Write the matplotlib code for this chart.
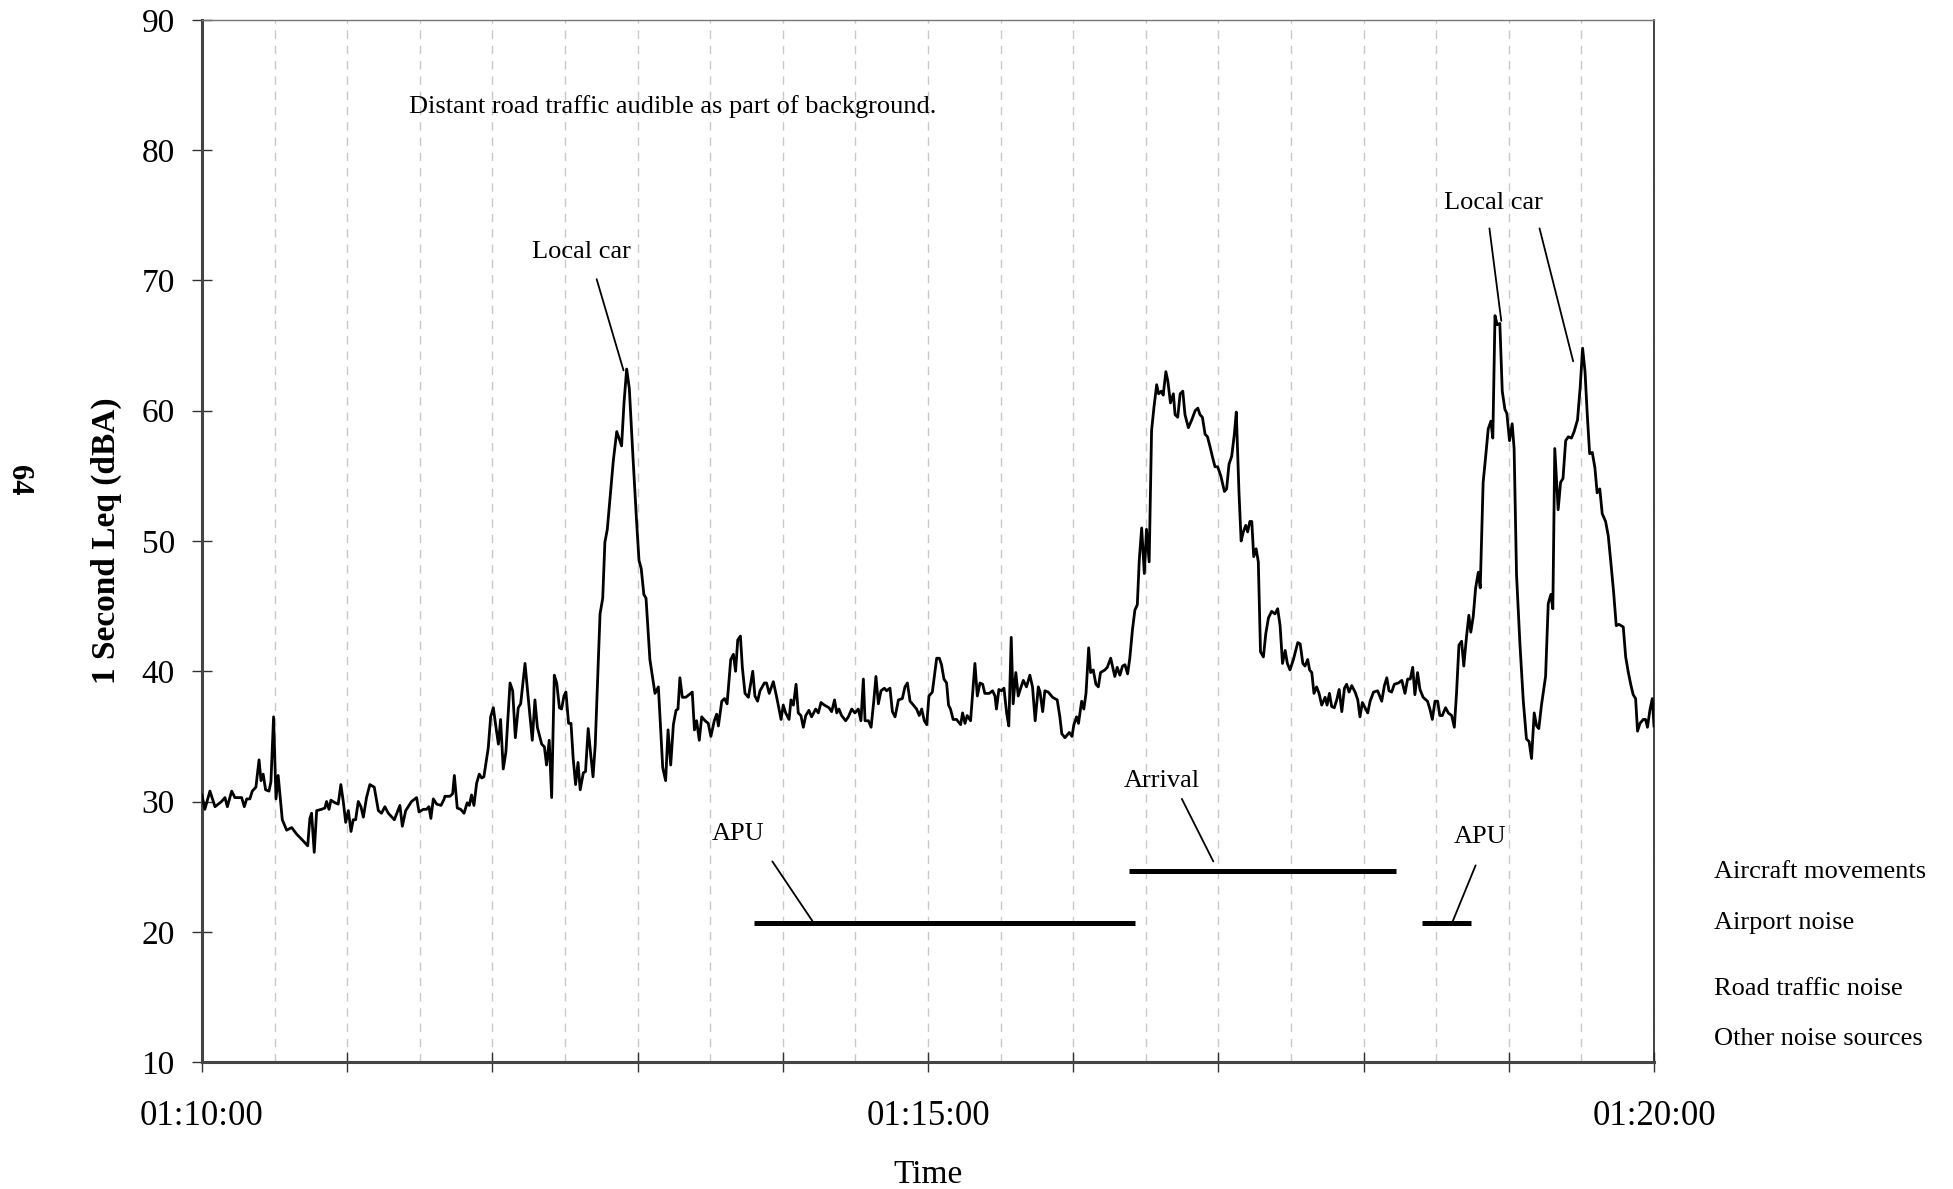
"""
1 second Leq time history, 01:10:00 - 01:20:00, with noise source notes.
"""

import matplotlib

matplotlib.use("Agg")
import matplotlib.pyplot as plt
import matplotlib.ticker as mticker

# seconds after 01:10:00
seconds = [
    0.0, 1.2, 3.3, 5.4, 8.1, 9.5, 10.5, 12.3, 13.6, 16.4, 17.5, 18.5, 19.8, 20.8, 22.3,
    23.6, 24.4, 25.3, 26.3, 27.7, 28.5, 29.6, 30.6, 31.5, 33.2, 35.0, 37.1, 39.1, 41.2,
    43.7, 44.6, 45.3, 46.4, 47.4, 49.4, 50.8, 51.5, 52.5, 53.3, 55.0, 56.3, 57.4, 58.4,
    59.4, 60.5, 61.6, 62.5, 63.5, 64.6, 65.7, 66.7, 68.0, 69.4, 71.2, 72.9, 74.2, 75.6,
    77.0, 79.5, 81.8, 82.8, 84.2, 86.6, 88.7, 89.7, 91.5, 92.8, 93.8, 94.6, 95.6, 97.0,
    98.8, 100.1,
    100.4, 102.5, 103.6, 104.3, 105.5, 106.9, 108.3, 109.6, 110.5, 111.4, 112.4, 113.5,
    114.6, 115.6, 116.5, 118.3, 119.3, 120.4, 121.5, 122.5, 123.4, 124.5, 125.6, 127.3,
    128.4, 129.5, 130.7, 131.7, 133.5, 134.8, 136.5, 137.6, 138.6, 140.4, 141.5, 142.4,
    143.5, 144.5, 145.6, 146.6, 147.7, 148.6, 149.6, 150.4, 151.5, 152.5, 153.4, 154.4,
    155.4, 156.3, 157.6, 158.5, 159.6, 160.6, 161.6, 162.5, 163.4, 164.5, 165.6, 166.5,
    167.5, 168.6, 170.0, 171.4, 173.4, 174.4, 175.5, 176.6, 178.0, 179.6, 180.6, 181.5,
    182.6, 183.5, 185.1, 187.2, 188.6, 190.4, 191.6, 192.6, 193.7, 194.8, 195.9, 196.7,
    197.5, 198.5, 199.9,
    201.3, 202.6, 203.5, 204.4, 205.5, 206.5, 207.9, 209.2, 210.3, 211.7, 212.7, 213.4,
    214.8, 215.9, 217.0, 218.5, 219.6, 220.5, 221.4, 222.5, 223.3, 224.4, 225.8, 227.6,
    228.5, 229.6, 230.6, 232.4, 233.3, 234.4, 236.1, 237.5, 239.3, 240.2, 241.2, 242.6,
    243.4, 244.4, 245.5, 246.4, 247.5, 248.5, 249.5, 250.8, 251.9, 253.6, 254.7, 255.8,
    257.2, 259.1, 260.2, 261.4, 262.3, 263.2, 264.3, 266.0, 267.1, 268.5, 269.8, 271.2,
    272.3, 273.3, 274.0, 275.4, 276.5, 277.6, 278.5, 279.5, 280.6, 282.0, 282.9, 284.3,
    285.3, 286.4, 287.8, 289.4, 290.5, 291.5, 292.6, 294.0, 295.3, 296.4, 297.4, 298.5,
    299.5, 300.4, 301.8,
    303.6, 304.7, 305.6, 306.6, 307.7, 308.5, 309.3, 310.4, 311.8, 313.5, 314.3, 315.3,
    316.2, 317.6, 319.4, 320.4, 321.5, 322.6, 323.5, 325.3, 326.7, 327.7, 328.3, 329.3,
    330.4, 331.4, 332.5, 333.4, 334.4, 335.2, 336.3, 337.3, 338.3, 339.4, 340.7, 342.1,
    343.2, 344.3, 345.6, 346.3, 347.4, 348.3, 349.7, 351.5, 353.4, 354.5, 355.3, 356.6,
    358.4, 359.5, 360.3, 361.4, 362.2, 363.5, 364.4, 365.3, 366.4, 367.2, 368.3, 369.4,
    370.4, 371.3, 373.1, 374.1, 375.5, 377.2, 378.2, 379.3, 380.4, 381.4, 382.5, 383.4,
    384.5, 385.5, 386.5, 387.3, 388.3, 389.4, 390.3, 391.4, 392.4, 393.4, 394.5, 395.3,
    396.4, 397.2, 398.3, 399.1, 400.2, 401.4,
    402.1, 403.2, 404.2, 405.3, 406.2, 407.6, 409.0, 410.4, 411.5, 412.4, 413.4, 414.5,
    415.5, 416.6, 417.5, 418.6, 419.7, 421.0, 422.5, 423.4, 424.4, 425.5, 426.6, 427.4,
    428.5, 429.4, 430.3, 431.3, 432.1, 433.0, 433.8, 434.6, 435.6, 436.5, 437.4, 438.6,
    439.6, 440.7, 442.0, 443.4, 444.5, 445.5, 446.5, 447.6, 448.5, 449.6, 451.0, 452.8,
    453.8, 454.9, 455.8, 456.9, 457.7, 458.6, 459.5, 460.6, 461.6, 462.7, 464.1, 464.9,
    465.9, 466.8, 467.9, 468.9, 469.9, 471.0, 472.1, 473.0, 474.0, 475.1, 476.5, 477.6,
    478.5, 479.5, 480.6, 481.7, 482.7, 484.1, 485.8, 487.5, 488.6, 489.6, 490.5, 491.6,
    492.7, 494.4, 495.8, 497.1, 498.2, 499.3, 500.3,
    501.2, 502.3, 503.3, 504.6, 506.4, 507.4, 508.4, 509.5, 510.6, 511.5, 512.5, 513.9,
    515.0, 516.4, 517.5, 518.4, 519.4, 520.5, 521.4, 522.5, 523.5, 524.3, 525.3, 526.3,
    527.4, 528.2, 529.4, 530.4, 531.5, 532.6, 533.4, 534.3, 535.2, 536.3, 537.3, 538.4,
    539.2, 540.3, 541.4, 542.2, 543.2, 544.6, 546.0, 547.3, 548.4, 549.4, 550.5, 551.5,
    552.4, 553.5, 555.2, 556.3, 557.4, 558.2, 559.0, 560.4, 561.4, 562.4, 563.5, 564.6,
    565.9, 567.0, 568.4, 569.5, 570.5, 571.5, 572.4, 573.4, 574.5, 575.6, 576.5, 577.6,
    578.6, 580.0, 581.1, 582.2, 583.3, 584.4, 585.5, 587.3, 588.3, 589.4, 590.5, 591.4,
    592.4, 593.2, 594.2, 595.6, 596.5, 597.3, 598.3, 599.3, 600.0,
]

leq_dba = [
    30.5, 29.4, 30.8, 29.6, 30.0, 30.3, 29.6, 30.8, 30.3, 30.3, 29.6, 30.2, 30.2, 30.8, 31.1,
    33.2, 31.6, 32.1, 30.9, 30.8, 31.5, 36.5, 30.2, 32.0, 28.6, 27.8, 28.0, 27.5, 27.1,
    26.6, 28.7, 29.1, 26.1, 29.3, 29.4, 29.5, 30.0, 29.4, 30.1, 29.9, 29.8, 31.3, 30.0,
    28.4, 29.3, 27.7, 28.6, 28.6, 30.0, 29.6, 28.8, 30.3, 31.3, 31.1, 29.3, 29.1, 29.6,
    29.1, 28.6, 29.7, 28.1, 29.3, 30.0, 30.3, 29.2, 29.4, 29.4, 29.6, 28.7, 30.2, 29.8,
    29.7, 30.2,
    30.4, 30.4, 30.6, 32.0, 29.5, 29.4, 29.1, 29.9, 29.7, 30.5, 29.7, 31.4,
    32.1, 31.8, 31.9, 34.1, 36.5, 37.2, 35.7, 34.4, 36.3, 32.5, 33.8, 39.1,
    38.5, 34.9, 37.2, 37.5, 40.6, 38.0, 34.7, 37.8, 35.7, 34.4, 34.2, 32.8,
    34.7, 30.3, 39.7, 39.1, 37.2, 37.1, 38.1, 38.4, 36.0, 36.0, 33.3, 31.3,
    33.0, 30.9, 32.2, 32.3, 35.6, 33.7, 31.9, 34.3, 38.8, 44.4, 45.6, 49.9,
    50.9, 53.2, 56.2, 58.4, 57.3, 60.6, 63.2, 61.7, 56.8, 51.5, 48.5, 47.9,
    45.9, 45.6, 40.9, 38.3, 38.8, 32.6, 31.6, 35.5, 32.8, 35.9, 37.0, 37.1,
    39.5, 38.0, 38.0,
    38.2, 38.4, 35.5, 36.2, 34.7, 36.5, 36.2, 36.0, 35.0, 36.2, 36.7, 35.8,
    37.7, 37.9, 37.5, 40.9, 41.3, 40.0, 42.4, 42.7, 40.3, 38.3, 38.0, 40.0,
    38.1, 37.7, 38.5, 39.1, 39.1, 38.3, 39.2, 38.0, 36.3, 37.4, 36.8, 36.3,
    37.8, 37.4, 39.0, 36.8, 36.6, 35.7, 36.6, 37.0, 36.5, 37.1, 36.8, 37.6,
    37.4, 37.2, 36.9, 37.8, 36.8, 37.1, 36.6, 36.2, 36.5, 37.1, 36.8, 37.1,
    36.2, 39.4, 36.2, 36.2, 35.7, 37.7, 39.6, 37.5, 38.5, 38.7, 38.5, 38.7,
    36.9, 36.5, 37.8, 37.9, 38.8, 39.1, 37.7, 37.4, 37.1, 36.6, 37.1, 36.2,
    35.9, 38.1, 38.4,
    41.0, 41.0, 40.5, 39.4, 39.1, 37.4, 37.1, 36.3, 36.3, 35.9, 36.8, 36.0,
    36.6, 36.2, 40.6, 38.1, 39.1, 39.0, 38.3, 38.3, 38.5, 38.1, 37.1, 38.6,
    38.5, 38.7, 36.8, 35.8, 42.6, 37.5, 39.9, 38.1, 38.7, 39.3, 38.8, 39.7,
    38.8, 36.2, 38.8, 38.4, 36.9, 38.5, 38.4, 38.0, 37.8, 36.5, 35.2, 34.9,
    35.3, 35.0, 35.9, 36.5, 36.0, 37.7, 37.1, 38.3, 41.8, 39.9, 40.1, 39.0,
    38.8, 39.9, 40.1, 40.3, 41.0, 39.6, 40.3, 39.7, 40.4, 40.5, 39.8, 41.0,
    43.2, 44.7, 45.1, 48.5, 51.0, 47.5, 50.9, 48.4, 58.5, 60.3, 62.0, 61.3,
    61.5, 61.2, 63.0, 62.3, 60.6, 61.3,
    59.7, 59.5, 61.3, 61.5, 59.7, 58.7, 59.3, 60.0, 60.2, 59.7, 59.5, 58.2,
    58.0, 57.2, 56.5, 55.7, 55.7, 55.0, 53.8, 54.0, 55.9, 56.5, 58.2, 59.9,
    53.8, 50.0, 50.7, 51.2, 50.7, 51.5, 51.5, 48.8, 49.4, 48.4, 41.5, 41.1,
    42.9, 44.1, 44.6, 44.4, 44.8, 43.5, 40.6, 41.6, 40.6, 40.1, 40.9, 42.2,
    42.1, 40.6, 40.4, 40.9, 40.1, 39.9, 38.3, 38.8, 38.3, 37.4, 38.0, 37.4,
    38.3, 37.3, 37.2, 37.8, 38.6, 36.9, 38.7, 39.0, 38.4, 38.9, 38.4, 37.8,
    36.5, 37.6, 37.2, 36.8, 37.7, 38.4, 38.5, 37.7, 38.9, 39.5, 38.5, 38.4,
    39.0, 39.1, 39.3, 38.3, 39.4, 39.4, 40.3,
    38.2, 39.9, 38.6, 38.0, 37.7, 37.1, 36.3, 37.7, 37.7, 36.6, 36.6, 37.2,
    36.8, 36.6, 35.7, 38.3, 42.0, 42.3, 40.4, 42.6, 44.3, 43.0, 44.2, 46.4,
    47.6, 46.4, 54.5, 56.4, 58.6, 59.2, 57.9, 67.3, 66.6, 66.7, 61.5, 60.1,
    59.8, 57.7, 59.0, 57.1, 47.4, 42.1, 37.7, 34.8, 34.6, 33.3, 36.8, 35.8,
    35.6, 37.4, 39.6, 45.2, 45.9, 44.8, 57.1, 52.4, 54.5, 54.8, 57.7, 58.0,
    57.9, 58.4, 59.3, 61.8, 64.8, 63.0, 59.8, 56.7, 56.8, 55.6, 53.7, 54.0,
    52.1, 51.5, 50.4, 48.3, 46.1, 43.5, 43.6, 43.4, 41.1, 39.9, 38.9, 38.2,
    37.9, 35.4, 36.0, 36.3, 36.3, 35.7, 37.0, 37.9, 35.8,
]

# event bars (APU, Arrival, APU)
bar_starts = [228.0, 382.9, 504.3]
bar_ends = [385.4, 493.5, 524.4]
bar_levels = [20.7, 24.7, 20.7]

# source rows written to the right of the plot
source_names = ["Aircraft movements", "Airport noise", "Road traffic noise", "Other noise sources"]
source_levels = [24.6, 20.7, 15.6, 11.8]

# notes and their leader lines
note_texts = ["Distant road traffic audible as part of background.",
              "Local car", "Local car", "APU", "Arrival", "APU"]
note_x = [85.7, 157.0, 533.6, 221.6, 396.7, 528.3]
note_y = [83.35, 72.2, 75.95, 27.5, 31.6, 27.3]
note_ha = ["left", "center", "center", "center", "center", "center"]

leader_x0 = [163.1, 532.0, 552.7, 235.7, 404.9, 526.3]
leader_y0 = [70.1, 74.0, 74.0, 25.4, 30.2, 25.1]
leader_x1 = [174.2, 536.9, 566.6, 252.7, 417.9, 516.6]
leader_y1 = [63.1, 66.9, 63.8, 20.7, 25.4, 20.7]

x_ticks = list(range(0, 601, 60))
x_tick_labels = ["01:10:00", "", "", "", "", "01:15:00", "", "", "", "", "01:20:00"]
y_ticks = list(range(10, 91, 10))

plt.rcParams["font.family"] = ["Liberation Serif", "DejaVu Serif"]

fig = plt.figure(figsize=(19.53, 11.89), dpi=100)
ax = fig.add_axes([0.1034, 0.1068, 0.7435, 0.8764])

ax.plot(seconds, leq_dba, color="black", linewidth=2.0, zorder=3)
ax.hlines(bar_levels, bar_starts, bar_ends, color="black", linewidth=3.6, zorder=3)

for txt, x, y, ha in zip(note_texts, note_x, note_y, note_ha):
    ax.text(x, y, txt, ha=ha, va="center", fontsize=19)
for x0, y0, x1, y1 in zip(leader_x0, leader_y0, leader_x1, leader_y1):
    ax.annotate("", xy=(x1, y1), xytext=(x0, y0),
                arrowprops=dict(arrowstyle="-", lw=1.3, color="black",
                                shrinkA=0, shrinkB=0))

for name, lvl in zip(source_names, source_levels):
    ax.text(625.0, lvl, name, ha="left", va="center", fontsize=19, clip_on=False)

ax.set_xlim(0, 600)
ax.set_ylim(10, 90)
ax.set_xticks(x_ticks)
ax.set_xticklabels(x_tick_labels)
ax.set_yticks(y_ticks)
ax.xaxis.set_minor_locator(mticker.MultipleLocator(30))

ax.tick_params(axis="both", which="major", direction="inout", length=15,
               width=1.0, labelsize=24, color="#333333")
ax.tick_params(axis="x", which="major", pad=20, labelsize=25)
ax.tick_params(axis="y", which="major", pad=12)
ax.tick_params(axis="x", which="minor", length=0)

ax.set_axisbelow(True)
ax.grid(axis="x", which="both", color="#c8c8c8", linestyle=(0, (6, 5)), linewidth=1.0)

ax.spines["left"].set_linewidth(2.2)
ax.spines["left"].set_color("#444444")
ax.spines["bottom"].set_linewidth(2.2)
ax.spines["bottom"].set_color("#444444")
ax.spines["top"].set_linewidth(1.0)
ax.spines["top"].set_color("#777777")
ax.spines["right"].set_linewidth(1.2)
ax.spines["right"].set_color("#222222")

ax.set_ylabel("1 Second Leq (dBA)", fontsize=24, fontweight="bold")
ax.yaxis.set_label_coords(-0.055, 0.5)
ax.set_xlabel("Time", fontsize=24)
ax.xaxis.set_label_coords(0.5, -0.094)

fig.text(0.0097, 0.596, "64", rotation=-90, fontsize=22, fontweight="bold",
         ha="center", va="center")

fig.savefig("out.png", dpi=100)
plt.close(fig)
